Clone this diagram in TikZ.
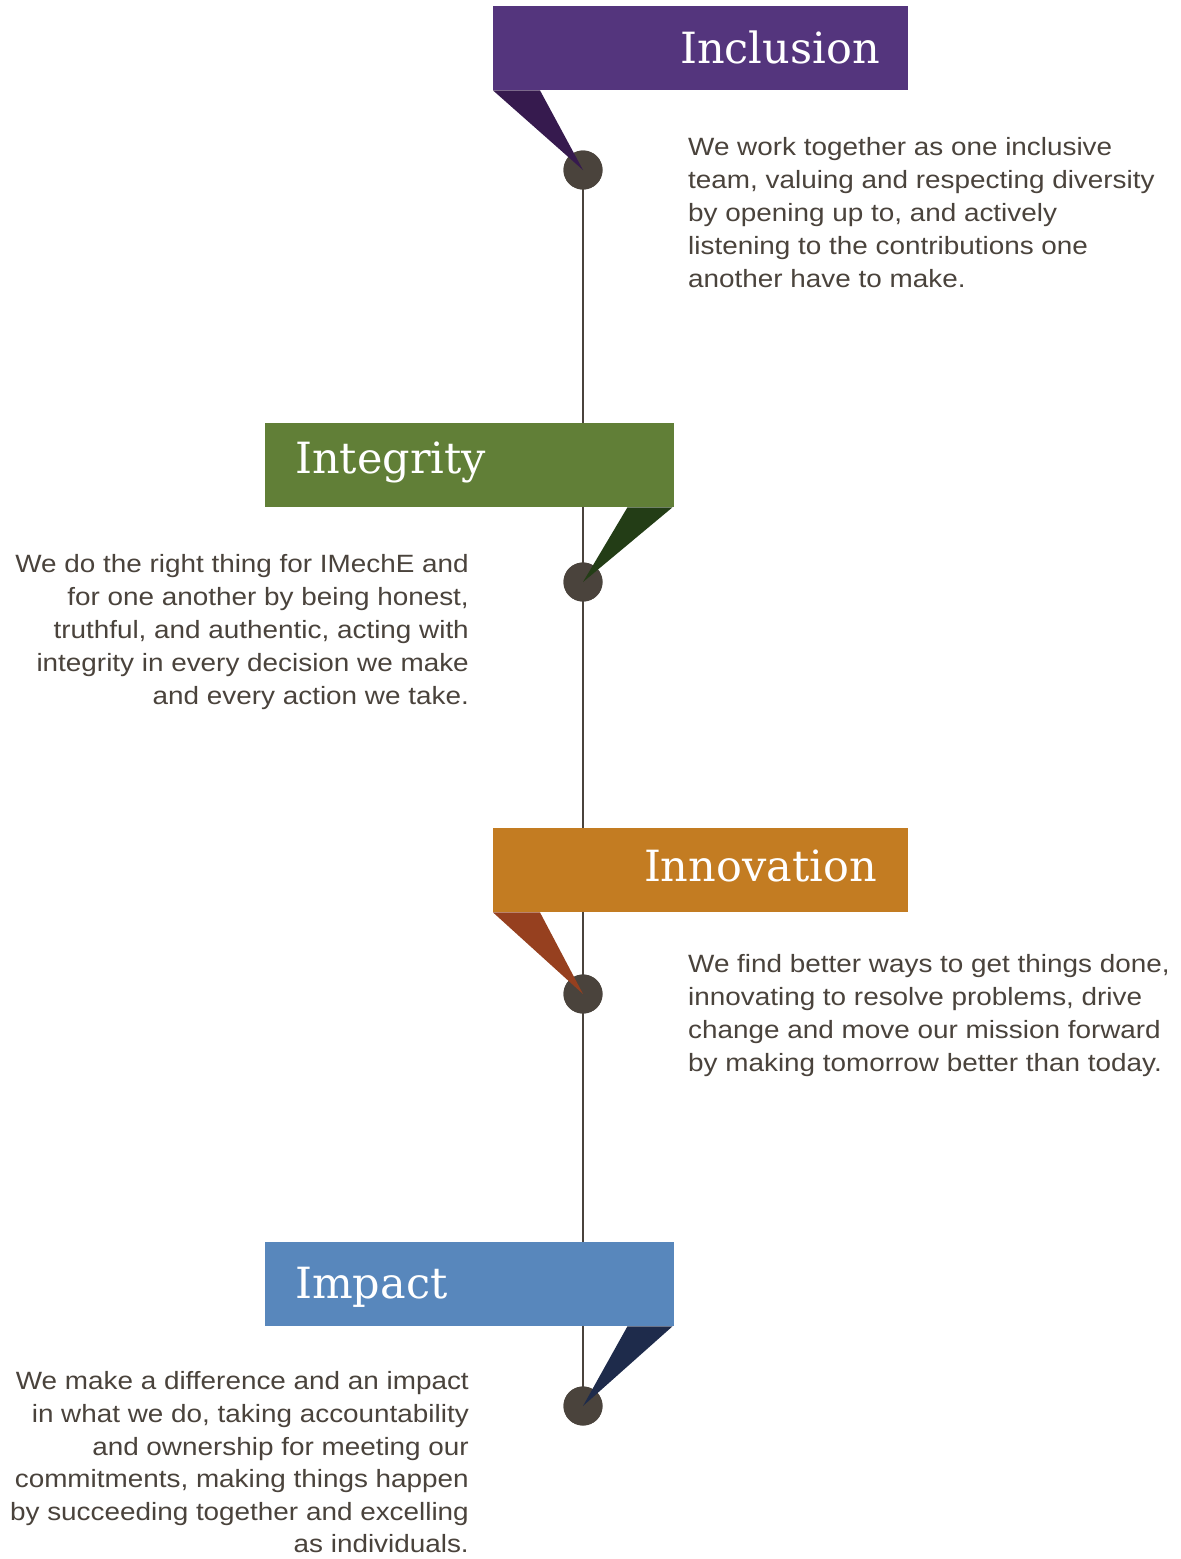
\documentclass[tikz,border=0pt]{standalone}
\usepackage{fontspec}
\setmainfont[FakeStretch=1.115]{Liberation Sans}
\newfontfamily\titlefont{DejaVu Serif}
\definecolor{ink}{HTML}{4A433C}
\definecolor{inclC}{HTML}{54357D}
\definecolor{inclD}{HTML}{361A4E}
\definecolor{integC}{HTML}{617F37}
\definecolor{integD}{HTML}{233D16}
\definecolor{innovC}{HTML}{C37C22}
\definecolor{innovD}{HTML}{96401F}
\definecolor{impC}{HTML}{5887BC}
\definecolor{impD}{HTML}{1E2B4B}
\tikzset{
  banner/.style={anchor=north west, inner sep=0pt, minimum width=#1, minimum height=84pt},
  title/.style={inner sep=0pt, text=white, font=\titlefont\fontsize{43}{43}\selectfont},
  dot/.style={circle, fill=ink, minimum size=39pt, inner sep=0pt},
  body/.style={inner sep=0pt, text=ink, font=\fontsize{25}{33}\selectfont},
  spine/.style={draw=ink, line width=2.5pt},
}
\begin{document}
\begin{tikzpicture}[x=1pt,y=-1pt]
\useasboundingbox[fill=white] (0,0) rectangle (1181,1559);

% milestones on the timeline
\node[dot] (c1) at (583,170) {};
\node[dot] (c2) at (583,582) {};
\node[dot] (c3) at (583,994) {};
\node[dot] (c4) at (583,1406) {};

% vertical spine
\draw[spine] (c1.center) -- (c4.center);

% banners
\node[banner=415pt, fill=inclC] (b1) at (493,6) {};
\node[banner=409pt, fill=integC] (b2) at (265,423) {};
\node[banner=415pt, fill=innovC] (b3) at (493,828) {};
\node[banner=409pt, fill=impC] (b4) at (265,1242) {};

\node[title, anchor=base east] (t1) at (880,63) {Inclusion};
\node[title, anchor=base west] (t2) at (295,473) {Integrity};
\node[title, anchor=base east] (t3) at (877,881) {Innovation};
\node[title, anchor=base west] (t4) at (295,1298) {Impact};

% circles redrawn above the spine
\node[dot] at (c1) {};
\node[dot] at (c2) {};
\node[dot] at (c3) {};
\node[dot] at (c4) {};

% pointers from banners to their milestones
\fill[inclD] (b1.south west) -- ++(47,0) -- (c1.center) -- cycle;
\fill[integD] (b2.south east) ++(-2,0) -- ++(-45,0) -- (c2.center) -- cycle;
\fill[innovD] (b3.south west) -- ++(47,0) -- (c3.center) -- cycle;
\fill[impD] (b4.south east) ++(-2,0) -- ++(-45,0) -- (c4.center) -- cycle;

% descriptions
\node[body, anchor=north west, align=left] (d1) at (688,137.6) {We work together as one inclusive\\team, valuing and respecting diversity\\by opening up to, and actively\\listening to the contributions one\\another have to make.};
\node[body, anchor=north east, align=right] (d2) at (469,554.6) {We do the right thing for IMechE and\\for one another by being honest,\\truthful, and authentic, acting with\\integrity in every decision we make\\and every action we take.};
\node[body, anchor=north west, align=left] (d3) at (688,954.6) {We find better ways to get things done,\\innovating to resolve problems, drive\\change and move our mission forward\\by making tomorrow better than today.};
\node[body, anchor=north east, align=right, font=\fontsize{25}{32.6}\selectfont] (d4) at (469,1371.6) {We make a difference and an impact\\in what we do, taking accountability\\and ownership for meeting our\\commitments, making things happen\\by succeeding together and excelling\\as individuals.};
\end{tikzpicture}
\end{document}
